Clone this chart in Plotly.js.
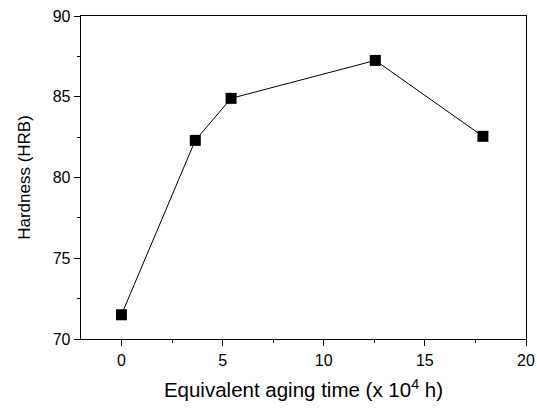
<!DOCTYPE html>
<html>
<head>
<meta charset="utf-8">
<script src="https://cdn.plot.ly/plotly-3.0.1.min.js"></script>
<style>html,body{margin:0;padding:0;background:#fff;}#chart{width:537px;height:409px;}</style>
</head>
<body>
<div id="chart"></div>
<script>
var agingTime = [0, 3.65, 5.42, 12.55, 17.87];
var hardness = [71.5, 82.3, 84.9, 87.25, 82.55];
var xTitle = 'Equivalent aging time (x 10<sup>4</sup> h)';
var yTitle = 'Hardness (HRB)';

var trace = {
  x: agingTime, y: hardness, type: 'scatter', mode: 'lines+markers',
  line: {color: '#000', width: 1},
  marker: {symbol: 'square', size: 11, color: '#000'},
  hoverinfo: 'skip'
};
var font = {family: 'Arial, "Liberation Sans", sans-serif', color: '#000'};
var layout = {
  width: 537, height: 409,
  margin: {l: 81, r: 11, t: 16, b: 70},
  paper_bgcolor: '#fff', plot_bgcolor: '#fff',
  showlegend: false,
  font: font,
  xaxis: {
    range: [-2, 20], dtick: 5, tick0: 0,
    showgrid: false, zeroline: false,
    showline: true, linecolor: '#000', linewidth: 1.3, mirror: true,
    ticks: 'outside', ticklen: 6, tickwidth: 1, tickcolor: '#000',
    minor: {ticks: 'outside', ticklen: 3, dtick: 2.5, tick0: 0, tickcolor: '#000', showgrid: false},
    tickfont: {size: 16, family: font.family, color: '#000'},
    title: {text: xTitle, font: {size: 20.5, family: font.family, color: '#000'}, standoff: 15}
  },
  yaxis: {
    range: [70, 90], dtick: 5, tick0: 70,
    showgrid: false, zeroline: false,
    showline: true, linecolor: '#000', linewidth: 1.3, mirror: true,
    ticks: 'outside', ticklen: 6, tickwidth: 1, tickcolor: '#000',
    minor: {ticks: 'outside', ticklen: 3, dtick: 2.5, tick0: 70, tickcolor: '#000', showgrid: false},
    tickfont: {size: 16, family: font.family, color: '#000'},
    title: {text: yTitle, font: {size: 17, family: font.family, color: '#000'}, standoff: 17}
  }
};
Plotly.newPlot('chart', [trace], layout, {displayModeBar: false, staticPlot: true});
</script>
</body>
</html>
